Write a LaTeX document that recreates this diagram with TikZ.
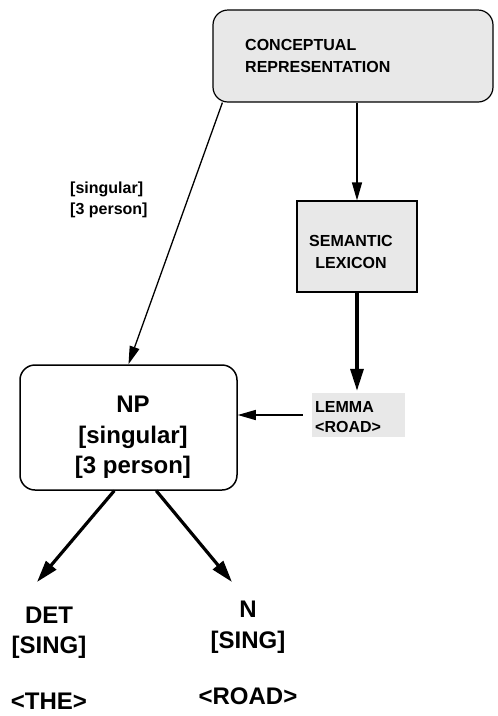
\documentclass[tikz,border=0pt]{standalone}
\usepackage{fontspec}
\setmainfont{Liberation Sans}
\usetikzlibrary{arrows.meta}
\begin{document}
\begin{tikzpicture}[x=1pt,y=-1pt,
  thinarrow/.style={line width=1.3pt,-{Triangle[length=18pt,width=10pt]}},
  thickarrow/.style={line width=3.2pt,-{Triangle[length=22pt,width=13pt]}},
  txt/.style={font=\bfseries\fontsize{16}{20}\selectfont, inner sep=0pt},
  big/.style={font=\bfseries\fontsize{24}{30}\selectfont, inner sep=0pt, anchor=base},
  shade/.style={fill=black!9}]
\useasboundingbox (0,0) rectangle (498,716);

% conceptual representation
\node[draw, line width=1.2pt, rounded corners=15pt, shade, minimum width=280pt, minimum height=92pt, inner sep=0pt] (concept) at (353,56) {};
\node[txt, anchor=base west] (concept1) at (245,50) {CONCEPTUAL};
\node[txt, anchor=base west] (concept2) at (245,72) {REPRESENTATION};

% semantic lexicon
\node[draw, line width=1.2pt, shade, minimum width=120pt, minimum height=91pt, inner sep=0pt] (lex) at (357,246.5) {};
\node[txt, anchor=base] (lex1) at (351,246) {SEMANTIC};
\node[txt, anchor=base] (lex2) at (351,268) {LEXICON};

% lemma
\node[shade, minimum width=93pt, minimum height=44pt, inner sep=0pt] (lemmabg) at (358.5,415) {};
\node[txt, anchor=base west] (lemma1) at (315,412) {LEMMA};
\node[txt, anchor=base west] (lemma2) at (315,432) {<ROAD>};

% feature label
\node[txt, anchor=base west] (feat1) at (70,193) {[singular]};
\node[txt, anchor=base west] (feat2) at (70,214) {[3 person]};

% NP box
\node[draw, line width=1.5pt, rounded corners=15pt, minimum width=217pt, minimum height=125pt, inner sep=0pt] (np) at (128.5,427.5) {};
\node[big] (np1) at (133,412) {NP};
\node[big] (np2) at (133,443) {[singular]};
\node[big] (np3) at (133,473) {[3 person]};

% DET and N
\node[big] (det1) at (49,623) {DET};
\node[big] (det2) at (49,653) {[SING]};
\node[big] (det3) at (49,709) {<THE>};
\node[big] (n1) at (248,617) {N};
\node[big] (n2) at (248,648) {[SING]};
\node[big] (n3) at (248,704) {<ROAD>};

\coordinate (dettip) at (37,582);
\coordinate (ntip) at (232,582);

% connectors
\draw[thinarrow] (concept.south -| lex.north) -- (lex.north);
\draw[thickarrow, shorten >=2pt] (lex.south) -- (lex.south |- lemmabg.north);
\draw[thinarrow, shorten <=9pt] (lemmabg.west) -- (lemmabg.west -| np.east);
\draw[thinarrow] ([xshift=10pt]concept.south west) -- (np.north);
\draw[thickarrow] ([xshift=95pt]np.south west) -- (dettip);
\draw[thickarrow] ([xshift=137pt]np.south west) -- (ntip);
\end{tikzpicture}
\end{document}
